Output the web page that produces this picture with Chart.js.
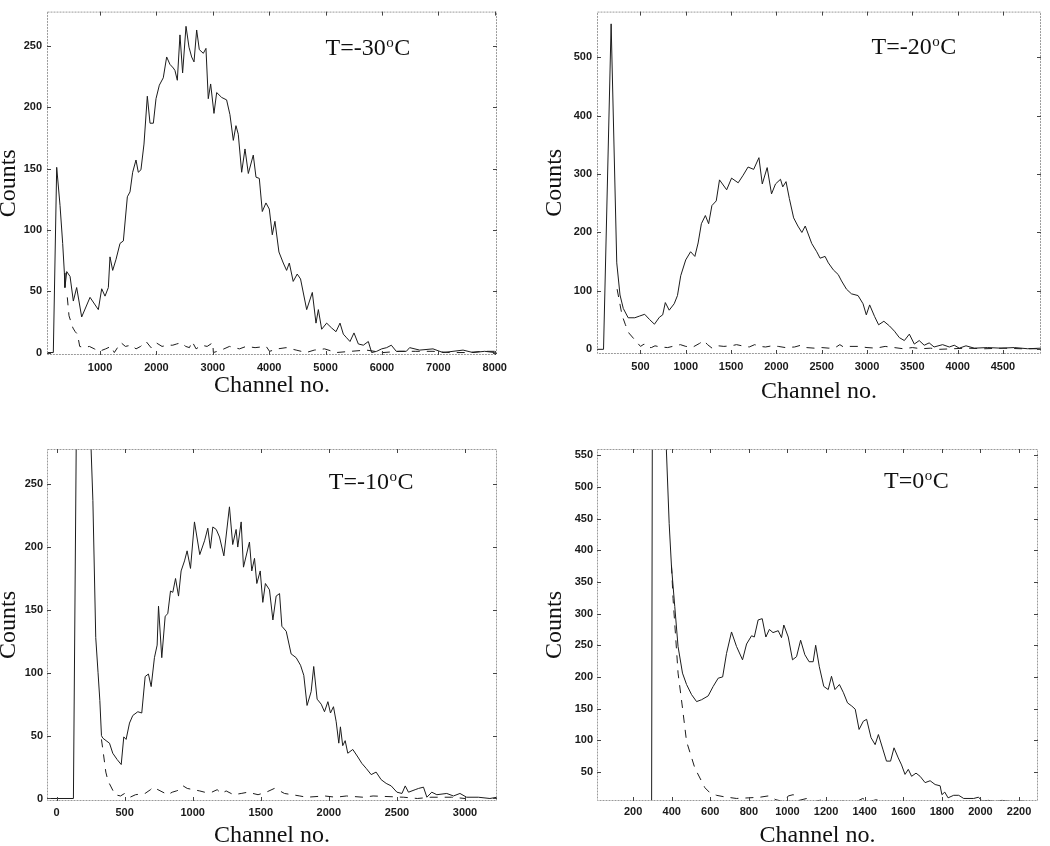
<!DOCTYPE html>
<html>
<head>
<meta charset="utf-8">
<script src="https://cdn.jsdelivr.net/npm/chart.js@4.4.1/dist/chart.umd.min.js"></script>
<style>
  body { margin: 0; background: #fff; width: 1050px; height: 846px; overflow: hidden; position: relative; }
  canvas { position: absolute; }
</style>
</head>
<body>
<canvas id="c1" width="520" height="420" style="left:0;top:0"></canvas>
<canvas id="c2" width="530" height="420" style="left:520px;top:0"></canvas>
<canvas id="c3" width="520" height="426" style="left:0;top:420px"></canvas>
<canvas id="c4" width="530" height="426" style="left:520px;top:420px"></canvas>
<script>
// temperatures shown in the panels
const temps = ['-30', '-20', '-10', '0'];

// T = -30 C
const ch30 = [60, 172, 232, 291, 338, 368, 378, 410, 469, 527, 586, 675, 823, 970, 1030, 1089, 1148, 1177, 1225, 1284,
  1355, 1414, 1485, 1532, 1579, 1638, 1679, 1726, 1780, 1839, 1887, 1946, 1993, 2052, 2122, 2182, 2240, 2300, 2329, 2371,
  2418, 2465, 2525, 2578, 2625, 2667, 2714, 2761, 2832, 2879, 2920, 2962, 3021, 3069, 3157, 3245, 3304, 3364, 3411, 3452,
  3512, 3571, 3630, 3718, 3766, 3825, 3878, 3943, 4002, 4055, 4102, 4173, 4250, 4309, 4357, 4426, 4497, 4556, 4665, 4765,
  4830, 4872, 4931, 5019, 5108, 5185, 5256, 5315, 5374, 5433, 5504, 5581, 5670, 5758, 5817, 5906, 5995, 6083, 6166, 6254,
  6432, 6491, 6669, 6905, 7083, 7260, 7438, 7615, 7822, 8000];
const ct30 = [0, 0, 151, 120, 89, 65, 53, 66, 62, 42, 53, 29, 45, 35, 52, 46, 53, 78, 67, 76,
  89, 91, 127, 131, 147, 157, 147, 149, 170, 209, 187, 187, 207, 218, 224, 241, 235, 232, 230, 222,
  259, 228, 266, 249, 241, 237, 263, 247, 244, 248, 207, 219, 195, 212, 208, 206, 194, 173, 185, 178,
  147, 166, 146, 161, 143, 142, 115, 122, 117, 96, 107, 82, 73, 67, 73, 58, 64, 60, 35, 49,
  24, 35, 19, 24, 20, 17, 24, 15, 12, 9, 16, 7, 6, 9, 0, 1, 3, 4, 6, 1,
  1, 4, 2, 3, 0, 1, 2, 0, 1, 0];
const bgCh30 = [420, 450, 520, 560, 600, 640, 720, 811, 900, 988, 1100, 1195, 1254, 1310, 1373, 1450, 1550, 1639, 1720, 1817,
  1905, 1994, 2100, 2200, 2290, 2360, 2438, 2520, 2586, 2633, 2704, 2800, 2900, 3000, 3010, 3150, 3296, 3380, 3473, 3592,
  3750, 3947, 4006, 4150, 4302, 4479, 4657, 4800, 4982, 5189, 5450, 5722, 6018, 6314, 6600, 6905, 7200, 7497, 7800, 8000];
const bgCt30 = [45, 30, 20, 17, 15, 5, 4, 5, 3, 1, 3, 5, 0, 4, 8, 5, 6, 3, 5, 9,
  4, 8, 5, 6, 6, 7, 8, 5, 4, 9, 3, 6, 5, 8, 0, 2, 5, 4, 3, 5,
  4, 5, 1, 3, 4, 2, 0, 2, 3, 0, 1, 2, 0, 1, 1, 1, 0, 0, 1, 1];
const xTicks30 = [1000, 2000, 3000, 4000, 5000, 6000, 7000, 8000];
const yTicks30 = [0, 50, 100, 150, 200, 250];
const xRange30 = [60, 8040];
const yRange30 = [-2, 278];

// T = -20 C
const ch20 = [20, 92, 176, 238, 274, 310, 364, 437, 491, 546, 600, 654, 709, 745, 774, 817, 872, 908, 944, 999,
  1053, 1100, 1136, 1172, 1216, 1252, 1288, 1336, 1372, 1451, 1505, 1578, 1633, 1687, 1749, 1807, 1844, 1898, 1946, 1990,
  2045, 2070, 2106, 2143, 2190, 2237, 2281, 2318, 2390, 2445, 2482, 2537, 2573, 2628, 2682, 2719, 2773, 2828, 2901, 2956,
  2992, 3029, 3084, 3128, 3186, 3248, 3303, 3357, 3412, 3467, 3522, 3576, 3631, 3686, 3740, 3834, 3908, 3963, 4018, 4092,
  4184, 4331, 4479, 4626, 4773, 4920];
const ct20 = [0, 0, 557, 148, 93, 70, 54, 54, 57, 60, 51, 43, 55, 59, 80, 67, 78, 92, 126, 153,
  167, 159, 182, 215, 229, 215, 246, 254, 290, 273, 293, 285, 298, 312, 308, 328, 283, 311, 266, 283,
  291, 278, 287, 258, 225, 211, 200, 211, 181, 167, 156, 159, 148, 136, 128, 117, 103, 95, 92, 78,
  59, 76, 56, 42, 48, 40, 31, 20, 15, 26, 9, 15, 7, 11, 4, 8, 4, 7, 2, 6,
  2, 3, 2, 3, 1, 2];
const bgCh20 = [242, 270, 297, 334, 371, 500, 540, 580, 620, 660, 720, 800, 880, 940, 1000, 1080, 1150, 1200, 1240, 1290,
  1360, 1420, 1500, 1560, 1620, 1700, 1760, 1820, 1880, 1950, 2020, 2100, 2200, 2270, 2330, 2420, 2500, 2580, 2650, 2700,
  2740, 2800, 2900, 3000, 3100, 3200, 3300, 3400, 3500, 3600, 3700, 3800, 3950, 4100, 4300, 4500, 4700, 4920];
const bgCt20 = [103, 80, 58, 42, 28, 5, 9, 3, 3, 6, 4, 3, 6, 8, 5, 4, 10, 15, 8, 2,
  6, 5, 6, 8, 6, 4, 8, 5, 4, 6, 5, 3, 4, 7, 3, 2, 3, 2, 3, 8,
  4, 5, 5, 3, 2, 5, 3, 1, 3, 1, 2, 0, 1, 2, 1, 2, 1, 1];
const xTicks20 = [500, 1000, 1500, 2000, 2500, 3000, 3500, 4000, 4500];
const yTicks20 = [0, 100, 200, 300, 400, 500];
const xRange20 = [20, 4920];
const yRange20 = [-8, 578];

// T = -10 C
const ch10 = [-70, 124, 190, 250, 267, 288, 305, 318, 330, 340, 364, 389, 413, 445, 475, 494, 511, 536, 560, 597,
  626, 651, 675, 695, 719, 739, 749, 773, 798, 817, 837, 854, 874, 896, 915, 940, 959, 984, 1013, 1052,
  1087, 1111, 1130, 1148, 1173, 1197, 1229, 1270, 1294, 1319, 1331, 1356, 1373, 1417, 1434, 1454, 1471, 1496, 1515, 1534,
  1564, 1589, 1613, 1638, 1655, 1687, 1723, 1760, 1792, 1816, 1840, 1870, 1889, 1914, 1944, 1968, 1993, 2012, 2034, 2054,
  2073, 2085, 2102, 2120, 2139, 2176, 2213, 2242, 2274, 2311, 2347, 2384, 2421, 2458, 2500, 2537, 2561, 2585, 2634, 2659,
  2695, 2720, 2756, 2793, 2866, 2915, 2963, 3012, 3098, 3183, 3235];
const ct10 = [0, 0, 900, 290, 237, 128, 100, 78, 50, 48, 46, 44, 36, 31, 27, 49, 47, 60, 66, 69,
  68, 97, 99, 89, 112, 122, 153, 112, 145, 147, 165, 164, 175, 161, 181, 189, 197, 183, 220, 194,
  205, 215, 199, 216, 214, 208, 193, 232, 202, 214, 200, 220, 184, 204, 181, 191, 171, 181, 156, 171,
  166, 142, 161, 163, 137, 133, 115, 112, 106, 98, 74, 85, 105, 79, 75, 69, 77, 68, 73, 61,
  44, 57, 42, 46, 36, 39, 33, 28, 24, 19, 21, 15, 12, 10, 5, 4, 10, 5, 7, 8,
  9, 1, 5, 3, 4, 2, 4, 1, 1, 0, 1];
const bgCh10 = [330, 345, 362, 378, 430, 470, 500, 540, 580, 650, 690, 709, 817, 850, 880, 905, 930, 960, 1052, 1087,
  1140, 1180, 1210, 1246, 1300, 1356, 1405, 1480, 1540, 1600, 1640, 1674, 1787, 1836, 1970, 2050, 2129, 2252, 2325, 2550,
  2650, 2750, 2900, 3000];
const bgCt10 = [47, 35, 21, 14, 3, 2, 4, 1, 3, 4, 7, 9, 3, 5, 6, 7, 10, 8, 6, 5,
  5, 7, 4, 6, 3, 4, 5, 3, 5, 8, 6, 4, 2, 1, 2, 1, 2, 1, 2, 1,
  0, 1, 1, 0];
const xTicks10 = [0, 500, 1000, 1500, 2000, 2500, 3000];
const yTicks10 = [0, 50, 100, 150, 200, 250];
const xRange10 = [-70, 3235];
const yRange10 = [-2, 278];

// T = 0 C
const ch0 = [13, 296, 306, 330, 387, 399, 416, 433, 456, 477, 503, 529, 555, 589, 615, 641, 664, 684, 710, 736,
  767, 788, 814, 828, 848, 869, 888, 906, 925, 952, 969, 981, 1004, 1026, 1047, 1068, 1090, 1112, 1133, 1146,
  1165, 1188, 1211, 1228, 1246, 1269, 1290, 1311, 1333, 1351, 1371, 1393, 1410, 1433, 1454, 1471, 1494, 1513, 1534, 1552,
  1574, 1591, 1609, 1626, 1643, 1666, 1687, 1713, 1739, 1765, 1791, 1800, 1815, 1832, 1861, 1887, 1913, 1965, 1990, 2008,
  2042, 2077, 2111, 2163, 2215, 2267, 2298];
const ct0 = [0, 0, 1600, 900, 442, 374, 311, 248, 206, 188, 172, 161, 164, 170, 185, 198, 200, 237, 271, 248,
  227, 252, 265, 263, 290, 292, 263, 275, 270, 273, 262, 282, 263, 227, 232, 258, 235, 224, 224, 250,
  216, 185, 180, 201, 180, 188, 175, 159, 154, 149, 117, 130, 133, 104, 93, 109, 86, 67, 67, 88,
  72, 61, 46, 54, 43, 48, 43, 33, 36, 30, 28, 14, 18, 9, 13, 13, 8, 8, 10, 4,
  5, 3, 5, 3, 4, 2, 2];
const bgCh0 = [399, 407, 421, 433, 456, 477, 520, 572, 598, 632, 666, 735, 800, 857, 900, 940, 981, 1004, 1030, 1060,
  1100, 1140, 1180, 1220, 1270, 1300, 1350, 1390, 1420, 1460, 1500, 1560, 1620, 1700, 1800, 1900, 2000, 2100, 2200, 2298];
const bgCt0 = [376, 324, 261, 206, 151, 98, 56, 25, 17, 13, 11, 8, 9, 10, 12, 6, 3, 12, 14, 5,
  8, 3, 6, 2, 5, 3, 2, 8, 3, 6, 1, 2, 0, 2, 1, 0, 1, 0, 1, 0];
const xTicks0 = [200, 400, 600, 800, 1000, 1200, 1400, 1600, 1800, 2000, 2200];
const yTicks0 = [50, 100, 150, 200, 250, 300, 350, 400, 450, 500, 550];
const xRange0 = [13, 2298];
const yRange0 = [4, 560];

const serif = '"Liberation Serif", "Times New Roman", serif';
const sans = '"Liberation Sans", Arial, sans-serif';

// frame, inward tick marks and the temperature note
const framePlugin = {
  id: 'frame',
  afterDatasetsDraw(chart, args, o) {
    const {ctx, chartArea: a, scales: {x, y}} = chart;
    ctx.save();
    ctx.lineWidth = 1;
    ctx.strokeStyle = '#9a9a9a';
    ctx.setLineDash([2, 1]);
    ctx.strokeRect(a.left + 0.5, a.top + 0.5, a.right - a.left - 1, a.bottom - a.top - 1);
    ctx.setLineDash([]);
    ctx.strokeStyle = '#444';
    ctx.beginPath();
    x.ticks.forEach(t => {
      const p = Math.round(x.getPixelForValue(t.value)) + 0.5;
      ctx.moveTo(p, a.bottom); ctx.lineTo(p, a.bottom - 4);
      ctx.moveTo(p, a.top); ctx.lineTo(p, a.top + 4);
    });
    y.ticks.forEach(t => {
      const p = Math.round(y.getPixelForValue(t.value)) + 0.5;
      ctx.moveTo(a.left, p); ctx.lineTo(a.left + 4, p);
      ctx.moveTo(a.right, p); ctx.lineTo(a.right - 4, p);
    });
    ctx.stroke();

    const px = x.getPixelForValue(o.at[0]);
    const py = y.getPixelForValue(o.at[1]);
    const head = 'T=' + o.temp;
    ctx.fillStyle = '#111';
    ctx.textBaseline = 'alphabetic';
    ctx.font = '24px ' + serif;
    ctx.fillText(head, px, py);
    let w = ctx.measureText(head).width + 0.5;
    ctx.font = '15px ' + serif;
    ctx.fillText('o', px + w, py - 8);
    w += ctx.measureText('o').width + 0.5;
    ctx.font = '24px ' + serif;
    ctx.fillText('C', px + w, py);
    ctx.restore();
  }
};

function points(xs, ys) {
  return xs.map((v, i) => ({x: v, y: ys[i]}));
}

function makePanel(id, p, box) {
  new Chart(document.getElementById(id), {
    type: 'scatter',
    data: {
      datasets: [{
        data: points(p.ch, p.ct),
        showLine: true,
        borderColor: '#1c1c1c',
        borderWidth: 1,
        pointRadius: 0,
        clip: 0
      }, {
        data: points(p.bgCh, p.bgCt),
        showLine: true,
        borderColor: '#1c1c1c',
        borderWidth: 1,
        borderDash: [8, 7],
        pointRadius: 0,
        clip: 0
      }]
    },
    options: {
      responsive: false,
      animation: false,
      events: [],
      layout: {padding: box.pad},
      scales: {
        x: {
          type: 'linear',
          min: p.xr[0], max: p.xr[1],
          afterBuildTicks: s => { s.ticks = p.xt.map(v => ({value: v})); },
          afterFit: s => { s.height = box.xH; },
          grid: {display: false, drawTicks: false},
          border: {display: false},
          ticks: {
            autoSkip: false, maxRotation: 0, padding: box.xPad, color: '#1a1a1a',
            font: {family: sans, size: 11, weight: 'bold'},
            callback: v => String(v)
          },
          title: {
            display: true, text: 'Channel no.', color: '#111',
            font: {family: serif, size: 24, lineHeight: 1},
            padding: {top: 0, bottom: box.xTitle}
          }
        },
        y: {
          type: 'linear',
          min: p.yr[0], max: p.yr[1],
          afterBuildTicks: s => { s.ticks = p.yt.map(v => ({value: v})); },
          afterFit: s => { s.width = box.yW; },
          grid: {display: false, drawTicks: false},
          border: {display: false},
          ticks: {
            padding: box.yPad, color: '#1a1a1a',
            font: {family: sans, size: 11, weight: 'bold'},
            callback: v => String(v)
          },
          title: {
            display: true, text: 'Counts', color: '#111',
            font: {family: serif, size: 24, lineHeight: 1},
            padding: {top: box.yTitle, bottom: 0}
          }
        }
      },
      plugins: {
        legend: {display: false},
        tooltip: {enabled: false},
        frame: {temp: p.temp, at: box.labelAt}
      }
    },
    plugins: [framePlugin]
  });
}

makePanel('c1',
  {temp: temps[0], ch: ch30, ct: ct30, bgCh: bgCh30, bgCt: bgCt30, xt: xTicks30, yt: yTicks30, xr: xRange30, yr: yRange30},
  {pad: {left: 0, top: 1, right: 23, bottom: 0}, yW: 47, xH: 65, xPad: 6, yPad: 5, xTitle: 22, yTitle: -3, labelAt: [5000, 243]});
makePanel('c2',
  {temp: temps[1], ch: ch20, ct: ct20, bgCh: bgCh20, bgCt: bgCt20, xt: xTicks20, yt: yTicks20, xr: xRange20, yr: yRange20},
  {pad: {left: 0, top: 2, right: 9, bottom: 0}, yW: 77, xH: 66, xPad: 6, yPad: 5, xTitle: 16, yTitle: 23, labelAt: [3050, 506]});
makePanel('c3',
  {temp: temps[2], ch: ch10, ct: ct10, bgCh: bgCh10, bgCt: bgCt10, xt: xTicks10, yt: yTicks10, xr: xRange10, yr: yRange10},
  {pad: {left: 0, top: 29, right: 23, bottom: 0}, yW: 47, xH: 45, xPad: 5, yPad: 4, xTitle: -2, yTitle: -3, labelAt: [2000, 246]});
makePanel('c4',
  {temp: temps[3], ch: ch0, ct: ct0, bgCh: bgCh0, bgCt: bgCt0, xt: xTicks0, yt: yTicks0, xr: xRange0, yr: yRange0},
  {pad: {left: 0, top: 29, right: 12, bottom: 0}, yW: 77, xH: 45, xPad: 4, yPad: 4, xTitle: -2, yTitle: 23, labelAt: [1500, 498]});
</script>
</body>
</html>
